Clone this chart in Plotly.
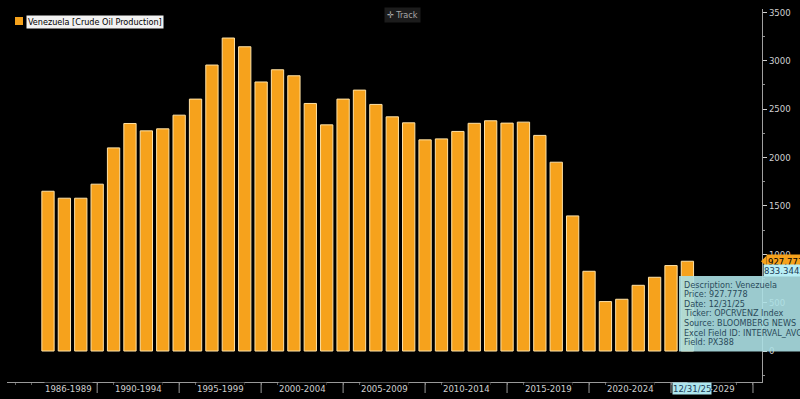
import plotly.graph_objects as go

years = list(range(1986, 2026))
production = [1651, 1579, 1579, 1724, 2099, 2351, 2275, 2296, 2437, 2603,
              2955, 3234, 3144, 2780, 2906, 2844, 2558, 2337, 2603, 2696,
              2548, 2420, 2358, 2182, 2192, 2269, 2353, 2379, 2355, 2365,
              2228, 1951, 1396, 824, 511, 535, 679, 762, 883, 927.7778]

group_labels = ["1986-1989", "1990-1994", "1995-1999", "2000-2004", "2005-2009",
                "2010-2014", "2015-2019", "2020-2024", "2025-2029"]
group_label_x = [1987.25, 1991.5, 1996.5, 2001.5, 2006.5, 2011.5, 2016.5, 2021.5, 2026.5]
group_sep_x = [1989, 1994, 1999, 2004, 2009, 2014, 2019, 2024, 2029]

y_ticks = [0, 500, 1000, 1500, 2000, 2500, 3000, 3500]
last_price = 927.7778
other_level = 833.3442
tooltip_lines = ["Description: Venezuela", "Price: 927.7778", "Date: 12/31/25",
                 "Ticker: OPCRVENZ Index", "Source: BLOOMBERG NEWS",
                 "Excel Field ID: INTERVAL_AVG", "Field: PX388"]

FONT = "DejaVu Sans Condensed, Liberation Sans, sans-serif"
ORANGE = "#f6a21c"

fig = go.Figure()
fig.add_trace(go.Bar(x=years, y=production, width=0.75,
                     marker=dict(color=ORANGE, line=dict(color="#ffe2a6", width=1)),
                     showlegend=False, hoverinfo="skip"))

W, H = 800, 399
ml, mr, mt, mb = 7, 38, 9, 17
pw, ph = W - ml - mr, H - mt - mb

def px_x(px):
    return (px - ml) / pw

def px_y(py):
    return (H - mb - py) / ph

annotations = []
shapes = []

# x-axis group labels
for lab, xv in zip(group_labels, group_label_x):
    annotations.append(dict(x=xv, y=px_y(388), xref="x", yref="paper", text=lab,
                            showarrow=False, xanchor="center", yanchor="middle",
                            bgcolor="black", borderpad=0,
                            font=dict(family=FONT, size=9.5, color="#d0d0d0")))
# date highlight on x-axis
annotations.append(dict(x=2025.3, y=px_y(388), xref="x", yref="paper", text="12/31/25",
                        showarrow=False, xanchor="center", yanchor="middle",
                        bgcolor="#aee6ee", borderpad=0,
                        font=dict(family=FONT, size=9.5, color="#1a3a55")))
# separators
for xv in group_sep_x:
    shapes.append(dict(type="line", xref="x", yref="paper", x0=xv, x1=xv,
                       y0=0, y1=px_y(393), line=dict(color="#9a9a9a", width=1)))

# legend
shapes.append(dict(type="rect", xref="paper", yref="paper",
                   x0=px_x(15), x1=px_x(23), y0=px_y(25), y1=px_y(17),
                   fillcolor=ORANGE, line=dict(width=0)))
annotations.append(dict(x=px_x(26), y=px_y(22), xref="paper", yref="paper",
                        text="Venezuela [Crude Oil Production]", showarrow=False,
                        xanchor="left", yanchor="middle", bgcolor="#f2f2f2", borderpad=1,
                        font=dict(family=FONT, size=9, color="#000000")))
# Track button
annotations.append(dict(x=px_x(402), y=px_y(15), xref="paper", yref="paper",
                        text="✛ Track", showarrow=False, xanchor="center", yanchor="middle",
                        bgcolor="#1c1c1c", borderpad=2,
                        font=dict(family=FONT, size=9, color="#a8a8a8")))

# right axis price labels
annotations.append(dict(x=px_x(766), y=last_price, xref="paper", yref="y",
                        text="927.7778", showarrow=False, xanchor="left", yanchor="middle",
                        bgcolor=ORANGE, borderpad=1,
                        font=dict(family=FONT, size=9.5, color="#000000")))
annotations.append(dict(x=px_x(763), y=other_level, xref="paper", yref="y",
                        text="833.3442", showarrow=False, xanchor="left", yanchor="middle",
                        bgcolor="#b8eef5", borderpad=0,
                        font=dict(family=FONT, size=9.5, color="#1a3a55")))

# tooltip
shapes.append(dict(type="rect", xref="paper", yref="paper",
                   x0=px_x(679), x1=px_x(805), y0=px_y(351.5), y1=px_y(276),
                   fillcolor="rgba(172,224,228,0.9)", line=dict(width=0), layer="above"))
for i, line in enumerate(tooltip_lines):
    annotations.append(dict(x=px_x(682), y=px_y(284.5 + i * 9.6), xref="paper", yref="paper",
                            text=line, showarrow=False, xanchor="left", yanchor="middle",
                            font=dict(family=FONT, size=9, color="#2a4a5a")))

fig.update_layout(
    width=W, height=H,
    margin=dict(l=ml, r=mr, t=mt, b=mb, pad=0),
    paper_bgcolor="black", plot_bgcolor="black",
    bargap=0.25,
    xaxis=dict(range=[1983.5, 2029.55], showgrid=False, zeroline=False,
               showline=True, linecolor="#9a9a9a", linewidth=1,
               ticks="outside", tick0=1986, dtick=1, ticklen=2, tickcolor="#606060",
               showticklabels=False, fixedrange=True),
    yaxis=dict(range=[-320, 3534], side="right", showgrid=False, zeroline=False,
               showline=True, linecolor="#a0a0a0", linewidth=1,
               tickvals=y_ticks, ticks="outside", ticklen=4, tickcolor="#d0d0d0",
               minor=dict(dtick=250, tick0=0, ticks="outside", ticklen=2, tickcolor="#909090"),
               tickfont=dict(family=FONT, size=9.5, color="#d0d0d0")),
    shapes=shapes,
    annotations=annotations,
)

# small pointer of the last-price label
lp_y = (last_price + 320) / (3534 + 320)
h = 5.5 / ph
fig.add_shape(type="path", xref="paper", yref="paper",
              path=f"M {px_x(761)} {lp_y} L {px_x(766.5)} {lp_y + h} L {px_x(766.5)} {lp_y - h} Z",
              fillcolor=ORANGE, line=dict(width=0))

fig.write_html("out.html", config={"displayModeBar": False},
               post_script="document.body.style.margin='0';document.body.style.background='black';")
